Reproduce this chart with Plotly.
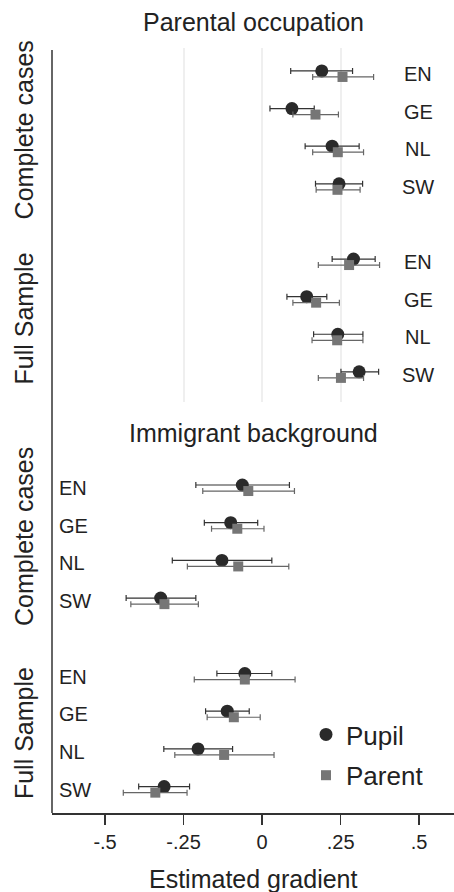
import plotly.graph_objects as go

# ---------------- data ----------------
countries = ["EN", "GE", "NL", "SW"]
samples = ["Complete cases", "Full Sample"]
panel_titles = ["Parental occupation", "Immigrant background"]
series_names = ["Pupil", "Parent"]
x_tick_vals = [-0.5, -0.25, 0, 0.25, 0.5]
x_tick_text = ["-.5", "-.25", "0", ".25", ".5"]
grid_vals = [-0.25, 0, 0.25]

# order: Complete cases EN, GE, NL, SW, then Full Sample EN, GE, NL, SW
occ_pupil_est = [0.190, 0.095, 0.223, 0.245, 0.291, 0.142, 0.241, 0.309]
occ_pupil_lo = [0.091, 0.025, 0.137, 0.170, 0.223, 0.079, 0.164, 0.251]
occ_pupil_hi = [0.288, 0.166, 0.309, 0.320, 0.360, 0.206, 0.321, 0.371]
occ_parent_est = [0.256, 0.170, 0.241, 0.240, 0.277, 0.172, 0.239, 0.251]
occ_parent_lo = [0.161, 0.098, 0.161, 0.172, 0.179, 0.098, 0.159, 0.179]
occ_parent_hi = [0.355, 0.243, 0.323, 0.312, 0.374, 0.246, 0.321, 0.323]

imm_pupil_est = [-0.063, -0.100, -0.128, -0.323, -0.055, -0.111, -0.204, -0.312]
imm_pupil_lo = [-0.211, -0.184, -0.286, -0.433, -0.144, -0.180, -0.313, -0.393]
imm_pupil_hi = [0.087, -0.014, 0.031, -0.211, 0.031, -0.041, -0.094, -0.231]
imm_parent_est = [-0.044, -0.079, -0.076, -0.311, -0.055, -0.090, -0.121, -0.340]
imm_parent_lo = [-0.189, -0.161, -0.238, -0.418, -0.216, -0.175, -0.278, -0.442]
imm_parent_hi = [0.103, 0.006, 0.085, -0.203, 0.105, -0.006, 0.038, -0.239]

# ---------------- layout constants ----------------
W, H = 454, 892
ML, MR, MT, MB = 52, 0, 48, 79
FONT = "Liberation Sans, Arial, sans-serif"
TXT = "#222222"
XR = [-0.669, 0.611]
TOP_DOM = [0.5373, 1.0]
BOT_DOM = [0.0, 0.4601]

# row positions: one slot per country, empty slot between sample blocks
rows = [s * (len(countries) + 1) + c + 1 for s in range(len(samples)) for c in range(len(countries))]
OFF = 0.08

styles = {
    "Pupil": dict(color="#2a2a2a", symbol="circle", size=13, eb="#333333", off=-OFF),
    "Parent": dict(color="#767676", symbol="square", size=10, eb="#666666", off=OFF),
}

fig = go.Figure()


def add_series(est, lo, hi, name, xa, ya, showlegend):
    st = styles[name]
    fig.add_trace(go.Scatter(
        x=est,
        y=[r + st["off"] for r in rows],
        mode="markers",
        name=name,
        legendgroup=name,
        showlegend=showlegend,
        marker=dict(color=st["color"], symbol=st["symbol"], size=st["size"], line=dict(width=0)),
        error_x=dict(type="data", symmetric=False,
                     array=[h - e for h, e in zip(hi, est)],
                     arrayminus=[e - l for e, l in zip(est, lo)],
                     color=st["eb"], thickness=1.2, width=3),
        xaxis=xa, yaxis=ya,
        hoverinfo="skip",
    ))


add_series(occ_pupil_est, occ_pupil_lo, occ_pupil_hi, "Pupil", "x", "y", False)
add_series(occ_parent_est, occ_parent_lo, occ_parent_hi, "Parent", "x", "y", False)
add_series(imm_pupil_est, imm_pupil_lo, imm_pupil_hi, "Pupil", "x2", "y2", True)
add_series(imm_parent_est, imm_parent_lo, imm_parent_hi, "Parent", "x2", "y2", True)

grid_common = dict(showgrid=True, gridcolor="#efefef", gridwidth=2, zeroline=False,
                   showline=False, ticks="", showticklabels=False, range=XR)

annotations = []
plot_h = H - MT - MB
plot_w = W - ML - MR


def py(pix):
    return (H - MB - pix) / plot_h


def px(pix):
    return (pix - ML) / plot_w


# panel titles
annotations.append(dict(text=panel_titles[0], xref="paper", yref="paper", x=0.5, y=py(22),
                        xanchor="center", yanchor="middle", showarrow=False,
                        font=dict(size=25, color=TXT, family=FONT)))
annotations.append(dict(text=panel_titles[1], xref="paper", yref="paper", x=0.5, y=py(433),
                        xanchor="center", yanchor="middle", showarrow=False,
                        font=dict(size=25, color=TXT, family=FONT)))
# x-axis title
annotations.append(dict(text="Estimated gradient", xref="paper", yref="paper", x=0.5, y=py(879),
                        xanchor="center", yanchor="middle", showarrow=False,
                        font=dict(size=25, color=TXT, family=FONT)))

# sample group labels (rotated) and country labels
for ya, side in (("y", "right"), ("y2", "left")):
    for s, sname in enumerate(samples):
        block = rows[s * len(countries):(s + 1) * len(countries)]
        ymid = sum(block) / len(block)
        if side == "left" and s == 0:
            ymid -= 0.2
        annotations.append(dict(text=sname, xref="paper", yref=ya, x=px(24),
                                y=ymid, textangle=-90,
                                xanchor="center", yanchor="middle", showarrow=False,
                                font=dict(size=25, color=TXT, family=FONT)))
    for r, c in zip(rows, countries * len(samples)):
        if side == "right":
            annotations.append(dict(text=c, xref="paper", yref=ya, x=px(418), y=r,
                                    xanchor="center", yanchor="middle", showarrow=False,
                                    font=dict(size=20, color=TXT, family=FONT)))
        else:
            annotations.append(dict(text=c, xref="paper", yref=ya, x=px(57), y=r,
                                    xanchor="left", yanchor="middle", showarrow=False,
                                    font=dict(size=20, color=TXT, family=FONT)))

fig.update_layout(
    width=W, height=H,
    margin=dict(l=ML, r=MR, t=MT, b=MB, pad=0),
    paper_bgcolor="white", plot_bgcolor="white",
    font=dict(family=FONT, color=TXT),
    xaxis=dict(domain=[0, 1], anchor="y", tickvals=grid_vals, **grid_common),
    yaxis=dict(domain=TOP_DOM, anchor="x", range=[9.72, 0.31], showgrid=False,
               showticklabels=False, zeroline=False, ticks="", showline=False),
    xaxis2=dict(domain=[0, 1], anchor="y2", range=XR, tickvals=x_tick_vals, ticktext=x_tick_text,
                ticks="outside", ticklen=10, tickwidth=1.5, tickcolor="#333333",
                showline=True, linecolor="#333333", linewidth=1.5, showgrid=False, zeroline=False,
                tickfont=dict(size=20, color=TXT, family=FONT), ticklabelstandoff=0),
    xaxis3=dict(overlaying="x2", anchor="y2", tickvals=grid_vals, **grid_common),
    yaxis2=dict(domain=BOT_DOM, anchor="x2", range=[9.62, 0.284], showgrid=False,
                showticklabels=False, zeroline=False, ticks="", showline=False),
    showlegend=True,
    legend=dict(x=px(306), y=py(711), xanchor="left", yanchor="top", bgcolor="white",
                font=dict(size=26, color=TXT, family=FONT), tracegroupgap=4,
                itemclick=False),
    annotations=annotations,
    shapes=[dict(type="line", xref="paper", yref="paper", x0=0, x1=0, y0=0, y1=py(50),
                 line=dict(color="#333333", width=1.5))],
)

fig.write_html(
    "out.html",
    config={"displayModeBar": False, "staticPlot": True},
    post_script="document.body.style.margin='0px';document.body.style.overflow='hidden';",
)
